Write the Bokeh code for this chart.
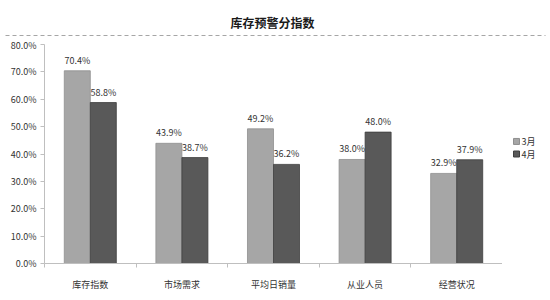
from bokeh.plotting import figure
from bokeh.layouts import column, row
from bokeh.models import ColumnDataSource, FixedTicker, NumeralTickFormatter, Range1d
from bokeh.core.properties import value
from bokeh.embed import file_html
from bokeh.resources import INLINE

title_text = "库存预警分指数"
categories = ["库存指数", "市场需求", "平均日销量", "从业人员", "经营状况"]
series_names = ["3月", "4月"]
march = [0.704, 0.439, 0.492, 0.380, 0.329]
april = [0.588, 0.387, 0.362, 0.480, 0.379]
y_ticks = [0.0, 0.1, 0.2, 0.3, 0.4, 0.5, 0.6, 0.7, 0.8]
colors = ["#a6a6a6", "#595959"]
edges = ["#8f8f8f", "#3f3f3f"]

FONT = "Noto Sans CJK SC"
W = 550
TXT = "#333333"

# ---- header figure: title + dashed rule ----
top = figure(width=W, height=38, x_range=Range1d(0, W), y_range=Range1d(0, 38),
             output_backend="svg", toolbar_location=None, min_border=0)
top.axis.visible = False
top.grid.visible = False
top.outline_line_color = None
top.text(x=[W / 2 - 3], y=[16], text=[title_text], text_font=value(FONT),
         text_font_size="12px", text_font_style="bold", text_color="#1a1a1a",
         text_align="center", text_baseline="middle")
top.segment(x0=[5], y0=[3], x1=[545], y1=[3], line_color="#a6a6a6",
            line_dash="4 3", line_width=1)

# ---- main chart ----
n = len(categories)
idx = list(range(n))
bw = 0.284
src = ColumnDataSource(dict(
    x3=[i + 0.5 - bw / 2 for i in idx],
    x4=[i + 0.5 + bw / 2 for i in idx],
    m=march, a=april,
    ml=[f"{v*100:.1f}%" for v in march],
    al=[f"{v*100:.1f}%" for v in april],
))

p = figure(width=502, height=262, x_range=Range1d(0, n), y_range=Range1d(0, 0.8),
           output_backend="svg", toolbar_location=None,
           min_border_left=44, min_border_right=0, min_border_top=6, min_border_bottom=37)
p.outline_line_color = None
p.grid.visible = False

p.vbar(x="x3", top="m", width=bw, source=src, fill_color=colors[0], line_color=edges[0], line_width=0.8)
p.vbar(x="x4", top="a", width=bw, source=src, fill_color=colors[1], line_color=edges[1], line_width=0.8)

p.text(x="x3", y="m", text="ml", source=src, text_font=value(FONT), text_font_size="9px",
       text_color=TXT, text_align="center", text_baseline="bottom", y_offset=-4)
p.text(x="x4", y="a", text="al", source=src, text_font=value(FONT), text_font_size="9px",
       text_color=TXT, text_align="center", text_baseline="bottom", y_offset=-4)

# y axis
p.yaxis.ticker = FixedTicker(ticks=y_ticks)
p.yaxis.formatter = NumeralTickFormatter(format="0.0%")
p.yaxis.axis_line_color = "#bfbfbf"
p.yaxis.major_tick_line_color = "#bfbfbf"
p.yaxis.major_tick_out = 4
p.yaxis.major_tick_in = 0
p.yaxis.minor_tick_line_color = None
p.yaxis.major_label_text_font = FONT
p.yaxis.major_label_text_font_size = "9px"
p.yaxis.major_label_text_color = TXT
p.yaxis.major_label_standoff = 4

# x axis
centers = [i + 0.5 for i in idx]
p.xaxis.ticker = FixedTicker(ticks=centers, minor_ticks=[float(i) for i in range(n + 1)])
p.xaxis.major_label_overrides = {c: lab for c, lab in zip(centers, categories)}
p.xaxis.axis_line_color = "#bfbfbf"
p.xaxis.major_tick_line_color = None
p.xaxis.minor_tick_line_color = "#bfbfbf"
p.xaxis.minor_tick_out = 4
p.xaxis.minor_tick_in = 0
p.xaxis.major_label_text_font = FONT
p.xaxis.major_label_text_font_size = "9px"
p.xaxis.major_label_text_color = TXT
p.xaxis.major_label_standoff = 8

# ---- legend figure (right) ----
lg = figure(width=W - 502, height=262, x_range=Range1d(0, 48), y_range=Range1d(262, 0),
            output_backend="svg", toolbar_location=None, min_border=0)
lg.axis.visible = False
lg.grid.visible = False
lg.outline_line_color = None
lsrc = ColumnDataSource(dict(x=[14, 14], y=[116, 131], c=colors, e=edges, t=series_names))
lg.scatter(x="x", y="y", marker="square", size=6, fill_color="c", line_color="e", source=lsrc)
lg.text(x="x", y="y", text="t", source=lsrc, x_offset=5, text_font=value(FONT),
        text_font_size="9px", text_color=TXT, text_align="left", text_baseline="middle")

lay = column(top, row(p, lg, spacing=0), spacing=0)
open("out.html", "w").write(file_html(lay, INLINE))
